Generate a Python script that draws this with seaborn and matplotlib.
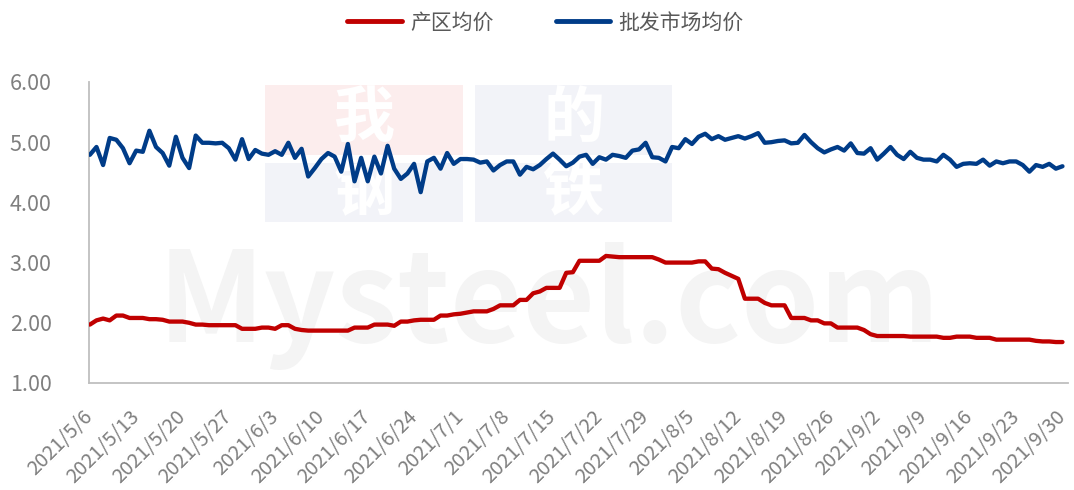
import matplotlib
matplotlib.use("Agg")
import matplotlib.pyplot as plt
import pandas as pd
import seaborn as sns
from matplotlib.patches import Rectangle

# daily prices, 2021/5/6 - 2021/9/30
dates = pd.date_range("2021-05-06", "2021-09-30", freq="D")

origin_price = [
    1.97, 2.04, 2.07, 2.04, 2.12, 2.12, 2.08, 2.08, 2.08, 2.06,
    2.06, 2.05, 2.02, 2.02, 2.02, 2.00, 1.97, 1.97, 1.96, 1.96,
    1.96, 1.96, 1.96, 1.90, 1.90, 1.90, 1.92, 1.92, 1.90, 1.96,
    1.96, 1.90, 1.88, 1.87, 1.87, 1.87, 1.87, 1.87, 1.87, 1.87,
    1.92, 1.92, 1.92, 1.97, 1.97, 1.97, 1.95, 2.02, 2.02, 2.04,
    2.05, 2.05, 2.05, 2.12, 2.12, 2.14, 2.15, 2.17, 2.19, 2.19,
    2.19, 2.23, 2.29, 2.29, 2.29, 2.38, 2.38, 2.49, 2.52, 2.58,
    2.58, 2.58, 2.83, 2.84, 3.03, 3.03, 3.03, 3.03, 3.11, 3.10,
    3.09, 3.09, 3.09, 3.09, 3.09, 3.09, 3.05, 3.00, 3.00, 3.00,
    3.00, 3.00, 3.02, 3.02, 2.90, 2.89, 2.83, 2.78, 2.73, 2.40,
    2.40, 2.40, 2.33, 2.29, 2.29, 2.29, 2.08, 2.08, 2.08, 2.04,
    2.04, 1.99, 1.99, 1.92, 1.92, 1.92, 1.92, 1.88, 1.81, 1.78,
    1.78, 1.78, 1.78, 1.78, 1.77, 1.77, 1.77, 1.77, 1.77, 1.75,
    1.75, 1.77, 1.77, 1.77, 1.75, 1.75, 1.75, 1.72, 1.72, 1.72,
    1.72, 1.72, 1.72, 1.70, 1.69, 1.69, 1.68, 1.68,
]

wholesale_price = [
    4.79, 4.92, 4.62, 5.07, 5.04, 4.90, 4.65, 4.86, 4.84, 5.19,
    4.92, 4.82, 4.61, 5.09, 4.74, 4.57, 5.11, 4.99, 4.99, 4.98,
    4.99, 4.90, 4.71, 5.05, 4.72, 4.87, 4.81, 4.79, 4.85, 4.79,
    4.99, 4.74, 4.89, 4.43, 4.57, 4.72, 4.82, 4.76, 4.51, 4.97,
    4.35, 4.74, 4.35, 4.76, 4.48, 4.94, 4.56, 4.39, 4.48, 4.64,
    4.17, 4.68, 4.74, 4.56, 4.82, 4.64, 4.72, 4.72, 4.71, 4.66,
    4.68, 4.53, 4.62, 4.68, 4.68, 4.46, 4.59, 4.55, 4.62, 4.72,
    4.81, 4.71, 4.60, 4.66, 4.76, 4.79, 4.64, 4.75, 4.71, 4.79,
    4.77, 4.74, 4.86, 4.88, 4.99, 4.75, 4.74, 4.68, 4.92, 4.90,
    5.05, 4.97, 5.09, 5.14, 5.05, 5.10, 5.04, 5.07, 5.10, 5.06,
    5.10, 5.15, 4.99, 5.00, 5.02, 5.03, 4.98, 4.99, 5.12, 5.00,
    4.90, 4.83, 4.88, 4.92, 4.86, 4.98, 4.82, 4.81, 4.90, 4.71,
    4.81, 4.92, 4.79, 4.72, 4.84, 4.74, 4.71, 4.71, 4.68, 4.79,
    4.71, 4.59, 4.64, 4.65, 4.64, 4.71, 4.61, 4.68, 4.65, 4.68,
    4.68, 4.62, 4.51, 4.62, 4.59, 4.64, 4.56, 4.60,
]

series_names = ["产区均价", "批发市场均价"]
series_colors = ["#C00000", "#003C88"]
y_ticks = [1, 2, 3, 4, 5, 6]

df = pd.DataFrame({
    "date": dates,
    series_names[0]: origin_price,
    series_names[1]: wholesale_price,
}).melt(id_vars="date", var_name="series", value_name="price")

sns.set_style("white")
plt.rcParams["font.family"] = ["Noto Sans CJK SC", "DejaVu Sans"]

fig = plt.figure(figsize=(10.74, 4.9), dpi=100)
ax = fig.add_axes([0.0829, 0.2184, 0.9115, 0.6143])

# faint Mysteel watermark behind the lines
logo = [("我", 0.180, 0.757, 0.233, "#FCEDED"), ("的", 0.394, 0.757, 0.233, "#F2F3F8"),
        ("钢", 0.180, 0.535, 0.196, "#F2F3F8"), ("铁", 0.394, 0.535, 0.196, "#F2F3F8")]
for ch, x, y, h, bg in logo:
    ax.add_patch(Rectangle((x, y), 0.202, h, transform=ax.transAxes,
                           facecolor=bg, edgecolor="none", zorder=0))
    ax.text(x + 0.101, y + h / 2, ch, transform=ax.transAxes, ha="center",
            va="center", fontsize=44, fontweight="bold", color="white", zorder=0.5)
ax.text(0.47, 0.255, "Mysteel.com", transform=ax.transAxes, ha="center",
        va="center", fontsize=90, fontweight="bold", color="#F4F4F4", zorder=0)

sns.lineplot(data=df, x="date", y="price", hue="series", hue_order=series_names,
             palette=series_colors, linewidth=3.1, ax=ax, zorder=3)

ax.set_ylim(1, 6)
ax.set_yticks(y_ticks)
ax.set_yticklabels([f"{v:.2f}" for v in y_ticks])
ax.set_xlim(dates[0] - pd.Timedelta(hours=3), dates[-1] + pd.Timedelta(hours=20))
tick_dates = dates[::7]
ax.set_xticks(tick_dates)
ax.set_xticklabels([f"{d.year}/{d.month}/{d.day}" for d in tick_dates],
                   rotation=45, ha="right", va="center", rotation_mode="anchor")
ax.set_xlabel("")
ax.set_ylabel("")

for side in ["top", "right"]:
    ax.spines[side].set_visible(False)
for side in ["left", "bottom"]:
    ax.spines[side].set_color("#BFBFBF")
    ax.spines[side].set_linewidth(1.3)
ax.tick_params(axis="both", colors="#BFBFBF", labelcolor="#7F7F7F",
               length=5, width=1.3, direction="out")
ax.tick_params(axis="x", labelsize=14.5, pad=17)
ax.tick_params(axis="y", labelsize=15.5, pad=22)

ax.get_legend().remove()
handles, labels = ax.get_legend_handles_labels()
leg = fig.legend(handles, labels, loc="upper center", bbox_to_anchor=(0.508, 1.015),
                 ncol=2, frameon=False, prop={"size": 15, "weight": "light"},
                 handlelength=2.6, handletextpad=0.4, columnspacing=3.0)
for t in leg.get_texts():
    t.set_color("#595959")
for line in leg.get_lines():
    line.set_linewidth(3.5)

fig.savefig("out.png", dpi=100)
